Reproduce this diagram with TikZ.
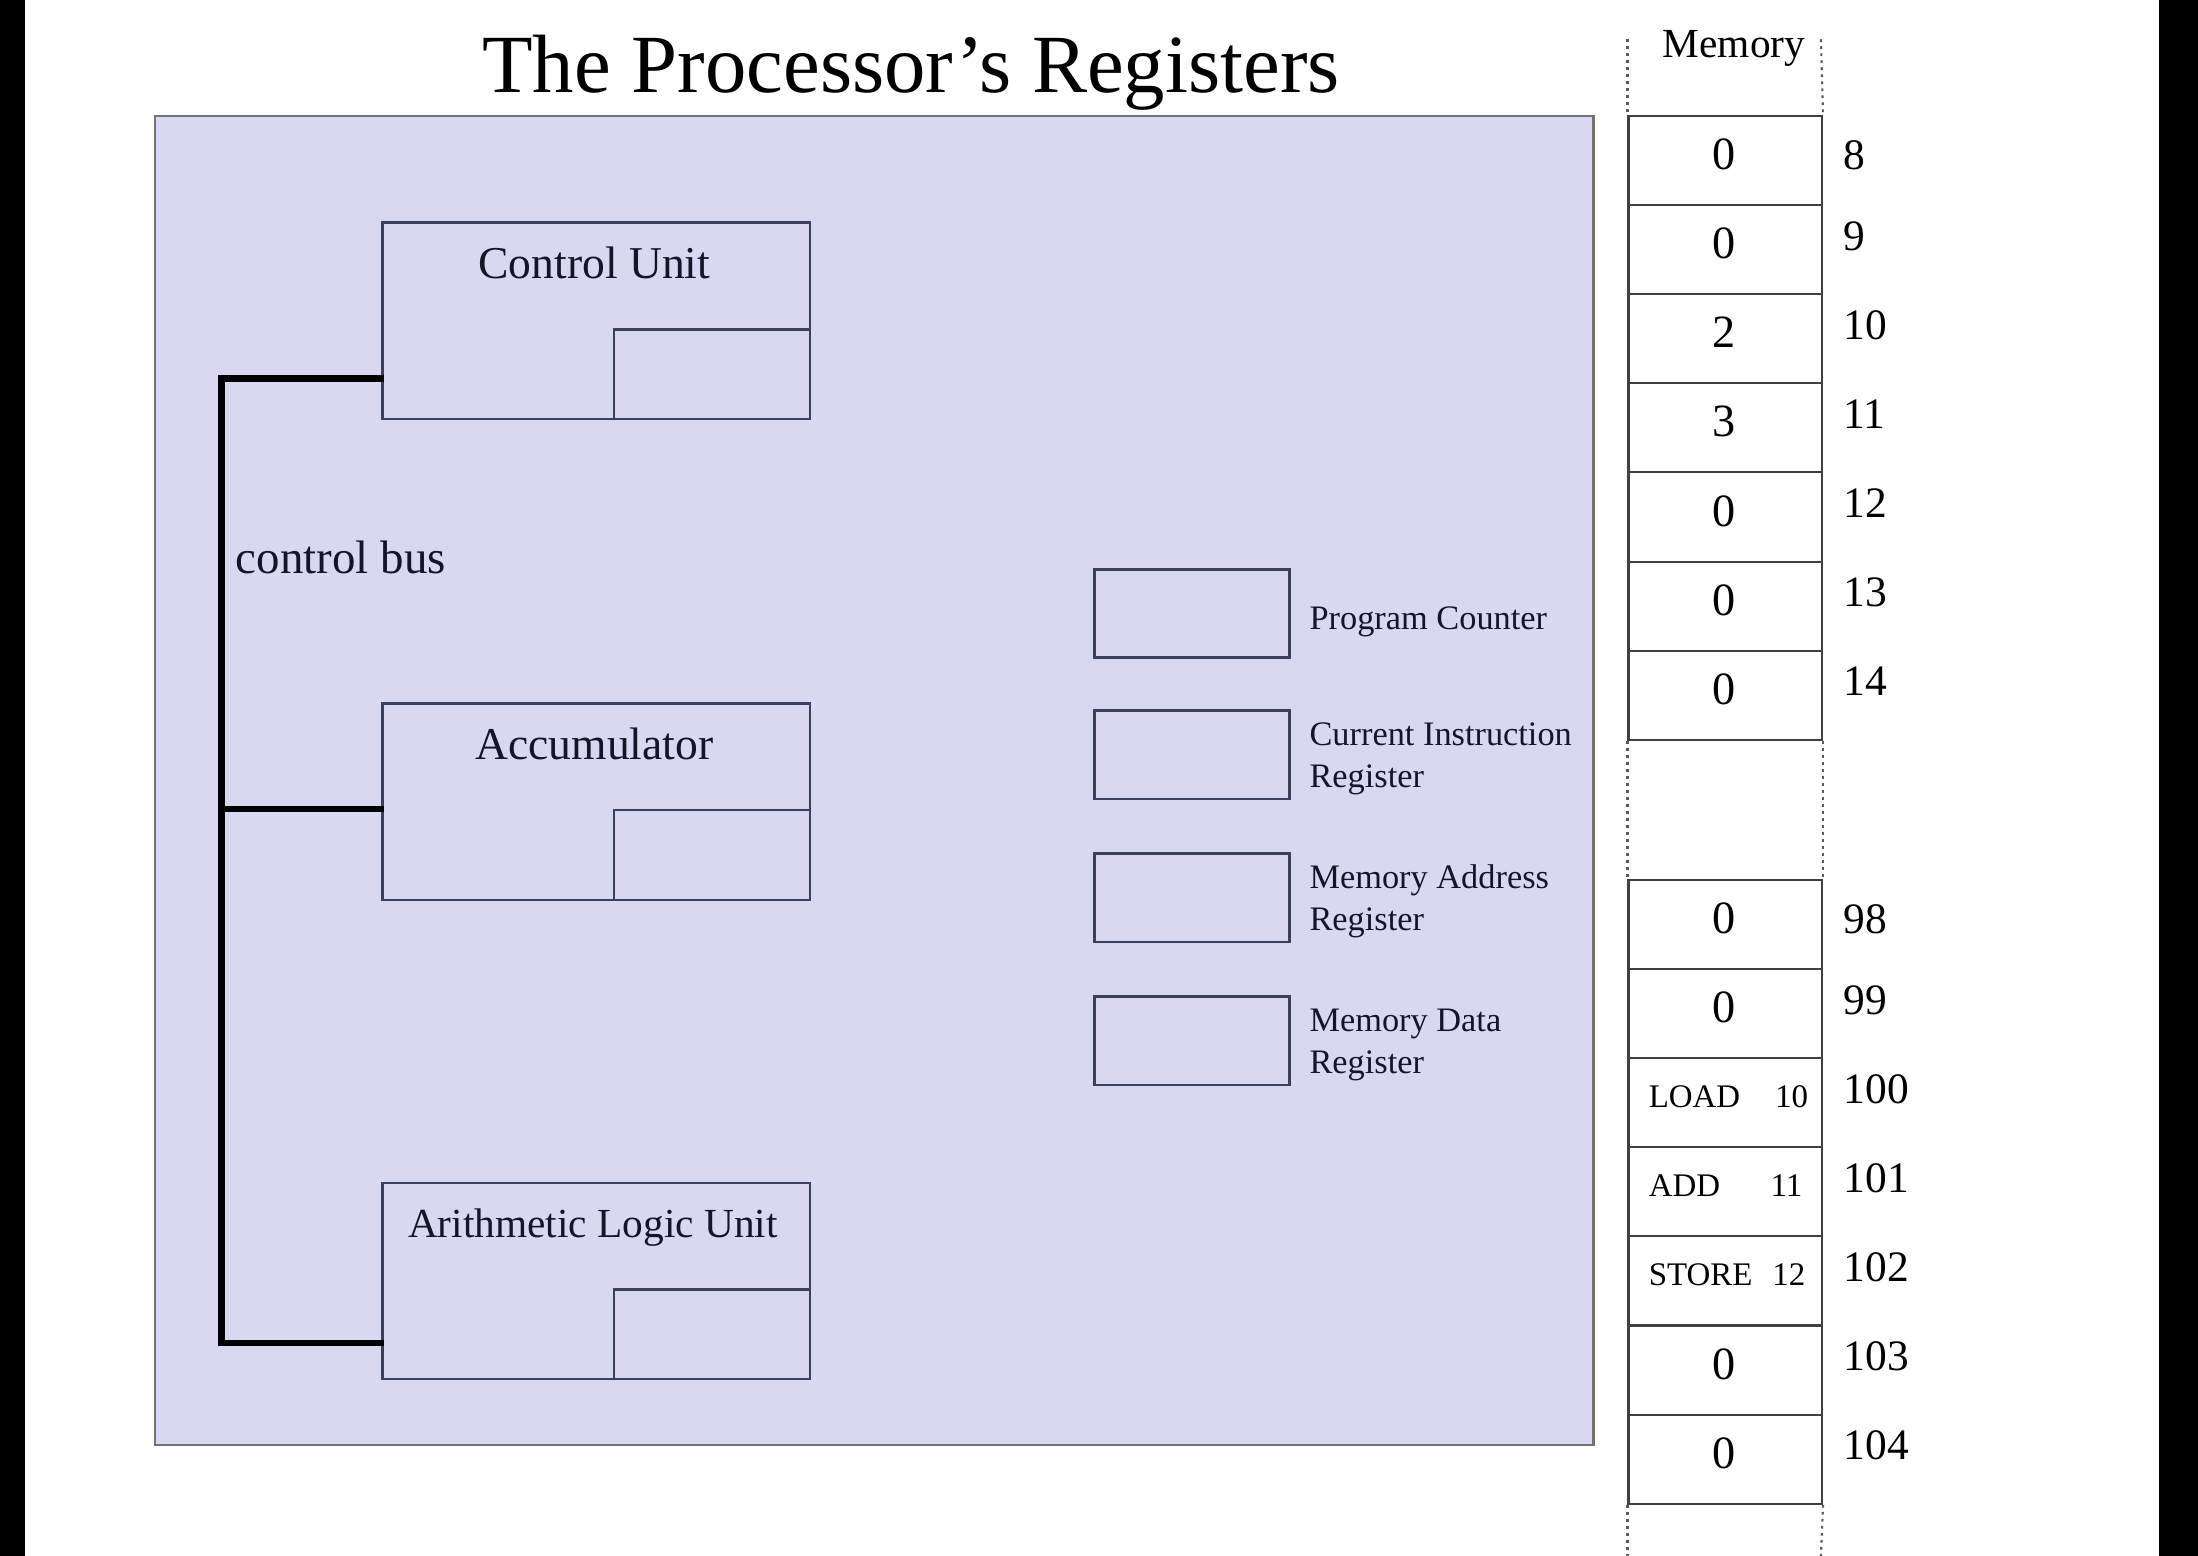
\documentclass[tikz,border=0pt]{standalone}
\usepackage{fontspec}
\setmainfont{Liberation Serif}
\definecolor{proc}{HTML}{D8D8F3}
\definecolor{edge}{HTML}{3E3E5E}
\definecolor{ink}{HTML}{15152A}
\begin{document}
\begin{tikzpicture}[x=1pt,y=-1pt,
  unitbox/.style={draw=edge, line width=1.8pt, anchor=north west, inner sep=0pt, minimum width=305pt, minimum height=140pt},
  subbox/.style={draw=edge, line width=1.8pt, anchor=south east, inner sep=0pt, minimum width=140pt, minimum height=64pt},
  regbox/.style={draw=edge, line width=2pt, anchor=north west, inner sep=0pt, minimum width=139pt, minimum height=63pt},
  cell/.style={draw=black!75, line width=1.5pt, fill=white, anchor=north west, inner sep=0pt, minimum width=138pt, minimum height=63.57pt},
  unitlbl/.style={font=\fontsize{32.5}{38}\selectfont, anchor=base, inner sep=0pt, text=ink},
  reglbl/.style={font=\fontsize{24.5}{30}\selectfont, anchor=base west, inner sep=0pt, text=ink},
  valtxt/.style={font=\fontsize{33}{40}\selectfont, anchor=base, inner sep=0pt},
  addrtxt/.style={font=\fontsize{31}{38}\selectfont, anchor=base west, inner sep=0pt},
  instr/.style={font=\fontsize{23.5}{28}\selectfont, inner sep=0pt},
  bus/.style={line width=4.5pt, black, line cap=rect},
  memdots/.style={dash pattern=on 2pt off 3pt, line width=1.5pt, black!65}
]
\useasboundingbox (0,0) rectangle (1568,1110);
\fill[white] (0,0) rectangle (1568,1110);
\fill[black] (0,0) rectangle (18,1110);
\fill[black] (1540,0) rectangle (1568,1110);

% title
\node[font=\fontsize{59}{70}\selectfont, anchor=base, inner sep=0pt] (title) at (650,66) {The Processor’s Registers};

% processor
\node[draw=black!55, fill=proc, line width=1.5pt, anchor=north west, inner sep=0pt, minimum width=1026pt, minimum height=948pt] (cpu) at (110,82) {};

% units
\node[unitbox] (cu) at (272,158) {};
\node[subbox] (cusub) at (cu.south east) {};
\node[unitlbl] (cul) at (424,199) {Control Unit};

\node[unitbox] (acc) at (272,501) {};
\node[subbox] (accsub) at (acc.south east) {};
\node[unitlbl] (accl) at (424,542) {Accumulator};

\node[unitbox] (alu) at (272,843) {};
\node[subbox] (alusub) at (alu.south east) {};
\node[unitlbl, font=\fontsize{29.5}{36}\selectfont] (alul) at (423,883) {Arithmetic Logic Unit};

% control bus
\coordinate (bustop) at (158,270);
\coordinate (busmid) at (158,577);
\coordinate (busbot) at (158,958);
\draw[bus] (bustop) -- (busbot);
\draw[bus] (bustop) -- (bustop -| cu.west);
\draw[bus] (busmid) -- (busmid -| acc.west);
\draw[bus] (busbot) -- (busbot -| alu.west);
\node[font=\fontsize{33.5}{40}\selectfont, anchor=base west, inner sep=0pt, text=ink] (busl) at (168,409) {control bus};

% registers
\node[regbox] (pc) at (780,405) {};
\node[regbox] (cir) at (780,506) {};
\node[regbox] (mar) at (780,608) {};
\node[regbox] (mdr) at (780,710) {};
\node[reglbl] (pcl) at (934,449) {Program Counter};
\node[reglbl] (cirl1) at (934,532) {Current Instruction};
\node[reglbl] (cirl2) at (934,562) {Register};
\node[reglbl] (marl1) at (934,634) {Memory Address};
\node[reglbl] (marl2) at (934,664) {Register};
\node[reglbl] (mdrl1) at (934,736) {Memory Data};
\node[reglbl] (mdrl2) at (934,766) {Register};

% memory
\node[font=\fontsize{29.5}{36}\selectfont, anchor=base, inner sep=0pt] (meml) at (1237,41) {Memory};

\foreach \v/\a [count=\i from 0] in {0/8,0/9,2/10,3/11,0/12,0/13,0/14} {
  \pgfmathsetmacro\off{\i==0 ? 39 : 33}
  \node[cell] (ca\i) at (1161, 82+\i*63.57) {};
  \node[valtxt] (va\i) at (1230, 82+\i*63.57+39) {\v};
  \node[addrtxt] (aa\i) at (1315, 82+\i*63.57+\off) {\a};
}
\foreach \a [count=\i from 0] in {98,99,100,101,102,103,104} {
  \pgfmathsetmacro\off{\i==0 ? 39 : 33}
  \node[cell] (cb\i) at (1161, 627+\i*63.57) {};
  \node[addrtxt] (ab\i) at (1315, 627+\i*63.57+\off) {\a};
}
\node[valtxt] (vb0) at (1230, 627+39) {0};
\node[valtxt] (vb1) at (1230, 627+63.57+39) {0};
\node[valtxt] (vb5) at (1230, 627+5*63.57+39) {0};
\node[valtxt] (vb6) at (1230, 627+6*63.57+39) {0};
\node[instr, anchor=base west] (op2) at (1176, 627+2*63.57+36) {LOAD};
\node[instr, anchor=base east] (ar2) at (1290, 627+2*63.57+36) {10};
\node[instr, anchor=base west] (op3) at (1176, 627+3*63.57+36) {ADD};
\node[instr, anchor=base east] (ar3) at (1286, 627+3*63.57+36) {11};
\node[instr, anchor=base west] (op4) at (1176, 627+4*63.57+36) {STORE};
\node[instr, anchor=base east] (ar4) at (1288, 627+4*63.57+36) {12};

% dotted memory edges
\coordinate (dtl) at (1161,28);
\coordinate (dtr) at (1299,28);
\coordinate (dbl) at (1161,1110);
\coordinate (dbr) at (1299,1110);
\draw[memdots] (dtl) -- (ca0.north west);
\draw[memdots] (dtr) -- (ca0.north east);
\draw[memdots] (ca6.south west) -- (cb0.north west);
\draw[memdots] (ca6.south east) -- (cb0.north east);
\draw[memdots] (cb6.south west) -- (dbl);
\draw[memdots] (cb6.south east) -- (dbr);
\end{tikzpicture}
\end{document}
